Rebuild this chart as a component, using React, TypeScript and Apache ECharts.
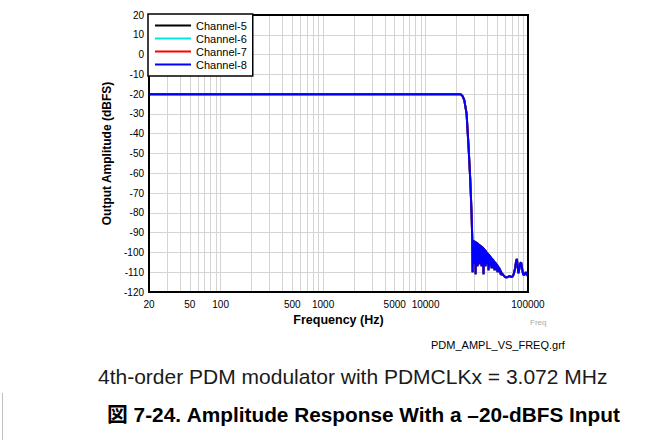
import React, { useEffect, useRef } from "react";
import * as echarts from "echarts";

// [frequency (Hz), output amplitude (dBFS)]
const channel8: [number, number][] = [
  [20, -20], [100, -20], [1000, -20], [10000, -20], [20000, -20], [21500, -20],
  [22170, -20.2], [23000, -21], [23880, -23], [25140, -29.7], [26290, -46.5],
  [27320, -63.3], [28120, -80], [28570, -93],
  [28800, -110], [29100, -93.8], [29450, -105], [29800, -94], [30100, -106],
  [30450, -94.3], [30800, -111], [31150, -94.6], [31500, -105], [31850, -94.9],
  [32200, -107], [32550, -95.3], [32900, -105], [33250, -95.7], [33650, -106],
  [34050, -96.1], [34400, -104], [34800, -96.5], [35200, -107], [35600, -96.9],
  [36000, -106], [36400, -97.3], [36800, -111], [37200, -97.8], [37650, -105],
  [38100, -98.5], [38500, -107], [38950, -99.1], [39400, -106], [39850, -99.8],
  [40300, -105], [40750, -100.4], [41200, -109], [41650, -101], [42150, -107],
  [42600, -101.6], [43100, -106], [43600, -102.2], [44100, -108], [44600, -102.9],
  [45100, -107], [45600, -103.5], [46100, -108], [46600, -104.1], [47150, -109],
  [47700, -104.7], [48200, -108], [48750, -105.3], [49300, -109], [49850, -105.9],
  [50400, -110], [51000, -106.6], [51550, -109], [52150, -107.4], [52700, -110],
  [53300, -108.3], [53900, -111], [54500, -109.3], [55100, -111.5], [55700, -110.6],
  [57500, -111.5], [59860, -112.5], [63000, -112.5], [66000, -112], [70020, -112.5],
  [72500, -111], [74900, -108], [76500, -104.5], [77820, -103.3], [79000, -106],
  [80500, -110.5], [82500, -108], [84000, -105.5], [85700, -105], [87500, -108],
  [89500, -111], [92000, -111.5], [95000, -110], [97000, -111], [100000, -112],
];
const channel7 = channel8;
const channel6 = channel8;
const channel5 = channel8;

const channelNames = ["Channel-5", "Channel-6", "Channel-7", "Channel-8"];
const channelColors = ["#000000", "#00e5e5", "#ff0000", "#0000ff"];
const channelData = [channel5, channel6, channel7, channel8];

const xLabelValues = [20, 50, 100, 500, 1000, 5000, 10000, 100000];
const xGridValues = [
  30, 40, 50, 60, 70, 80, 90, 100, 200, 300, 400, 500, 600, 700, 800, 900,
  1000, 2000, 3000, 4000, 5000, 6000, 7000, 8000, 9000,
  10000, 20000, 30000, 40000, 50000, 60000, 70000, 80000, 90000,
];

const FONT = '"Liberation Sans", Arial, Helvetica, sans-serif';

export default function App() {
  const ref = useRef<HTMLDivElement>(null);
  useEffect(() => {
    if (!ref.current) return;
    const chart = echarts.init(ref.current, null, { renderer: "svg" });
    const series = channelNames.map((name, k) => ({
      name,
      type: "line",
      data: channelData[k],
      symbol: "none",
      showSymbol: false,
      lineStyle: { color: channelColors[k], width: 2 },
      itemStyle: { color: channelColors[k] },
      z: 3 + k,
    }));
    chart.setOption({
      animation: false,
      backgroundColor: "#ffffff",
      textStyle: { fontFamily: FONT },
      grid: {
        left: 149,
        top: 15,
        width: 379,
        height: 277,
        show: true,
        borderColor: "#000",
        borderWidth: 2,
        backgroundColor: "transparent",
        z: 10,
      },
      legend: {
        show: true,
        orient: "vertical",
        left: 148,
        top: 14,
        padding: [5, 6, 5, 7],
        itemWidth: 36,
        itemHeight: 2,
        itemGap: 0,
        icon: "rect",
        backgroundColor: "#ffffff",
        borderColor: "#000",
        borderWidth: 1.5,
        data: channelNames,
        textStyle: { fontFamily: FONT, fontSize: 11, color: "#000", lineHeight: 13 },
        z: 20,
      },
      xAxis: {
        type: "log",
        logBase: 10,
        min: 20,
        max: 100000,
        name: "Frequency (Hz)",
        nameLocation: "middle",
        nameGap: 19,
        nameTextStyle: { fontFamily: FONT, fontSize: 12.5, fontWeight: "bold", color: "#000" },
        axisLine: { show: true, onZero: false, lineStyle: { color: "#000", width: 2 } },
        axisTick: { show: false, customValues: xGridValues },
        axisLabel: {
          customValues: xLabelValues,
          fontFamily: FONT,
          fontSize: 10,
          color: "#000",
          margin: 7,
          formatter: (v: number) => String(Math.round(v)),
        },
        splitLine: { show: true, lineStyle: { color: "#d4d4d4", width: 1 } },
        minorSplitLine: { show: false },
      },
      yAxis: {
        type: "value",
        min: -120,
        max: 20,
        interval: 10,
        name: "Output Amplitude (dBFS)",
        nameLocation: "middle",
        nameGap: 32,
        nameTextStyle: { fontFamily: FONT, fontSize: 12, fontWeight: "bold", color: "#000" },
        axisLine: { show: true, onZero: false, lineStyle: { color: "#000", width: 2 } },
        axisTick: { show: false },
        axisLabel: { fontFamily: FONT, fontSize: 10, color: "#000", margin: 5 },
        splitLine: { show: true, lineStyle: { color: "#d4d4d4", width: 1 } },
      },
      series,
      graphic: [
        {
          type: "text",
          x: 530,
          y: 322,
          style: { text: "Freq", font: `8px ${FONT}`, fill: "#aaaaaa", verticalAlign: "middle" },
        },
        {
          type: "text",
          x: 431,
          y: 345,
          style: { text: "PDM_AMPL_VS_FREQ.grf", font: `11px ${FONT}`, fill: "#000", verticalAlign: "middle" },
        },
        {
          type: "text",
          x: 98,
          y: 376,
          style: {
            text: "4th-order PDM modulator with PDMCLKx = 3.072 MHz",
            font: `21px ${FONT}`,
            fill: "#1a1a1a",
            verticalAlign: "middle",
          },
        },
        {
          type: "text",
          x: 107,
          y: 414,
          style: {
            text: "図 7-24. Amplitude Response With a –20-dBFS Input",
            font: `bold 20.8px "Liberation Sans", Arial, "Noto Sans CJK JP", sans-serif`,
            fill: "#000",
            verticalAlign: "middle",
          },
        },
        {
          type: "line",
          shape: { x1: 2.5, y1: 393, x2: 2.5, y2: 440 },
          style: { stroke: "#c0c0c0", lineWidth: 1 },
        },
      ],
    });
    return () => chart.dispose();
  }, []);
  return (
    <div
      ref={ref}
      style={{ position: "fixed", left: 0, top: 0, width: 664, height: 440, background: "#fff" }}
    />
  );
}
